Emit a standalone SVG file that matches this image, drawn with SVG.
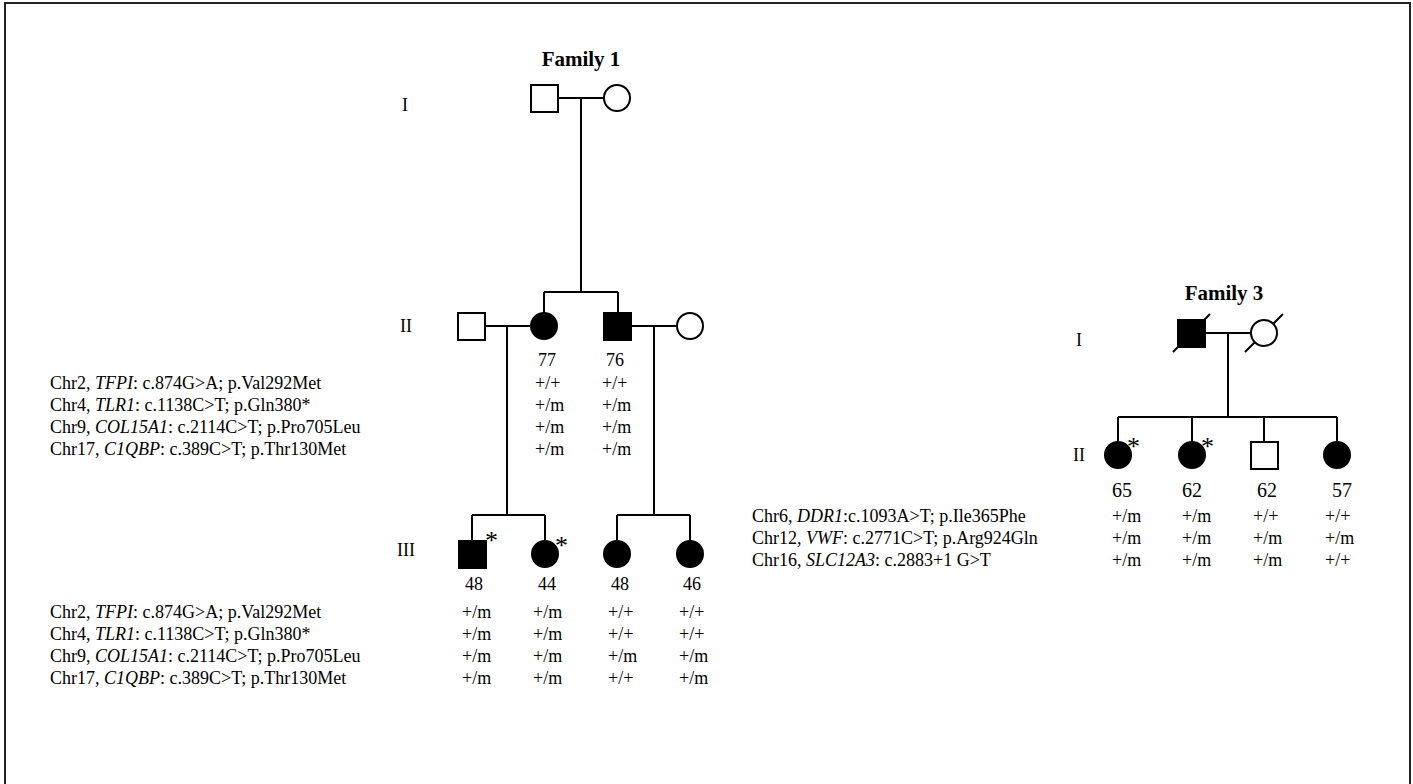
<svg xmlns="http://www.w3.org/2000/svg" width="1413" height="784" viewBox="0 0 1413 784">
<style>
text{font-family:"Liberation Serif","Times New Roman",serif;fill:#000;}
.g{font-size:18px;}
.n{font-size:18px;text-anchor:middle;}
.n3{font-size:20px;text-anchor:middle;}
.h{font-size:21px;font-weight:bold;text-anchor:middle;}
.r{font-size:18px;}
.a{font-size:26px;}
.o{fill:#fff;stroke:#000;stroke-width:2;}
.f{fill:#000;stroke:#000;stroke-width:2;}
.l{stroke:#000;stroke-width:2;fill:none;}
</style>
<rect x="0" y="0" width="1413" height="784" fill="#fff"/>
<rect x="5" y="3" width="1405" height="820" fill="none" stroke="#222" stroke-width="2"/>

<g id="connectors" class="l">
<path d="M558 98H604M581 98V292M544 292H618M544 292V313M618 292V313"/>
<path d="M485 326H530M631 326H677M507 326V515M654 326V515"/>
<path d="M472 515H545M472 515V540M545 515V540M617 515H690M617 515V540M690 515V540"/>
<path d="M1205 333H1251M1228 333V417M1118 417H1337M1118 417V441M1192 417V441M1264 417V442M1337 417V441"/>
<path d="M1173 352L1210 314M1245 352L1283 314"/>
</g>

<g id="labels">
<text class="h" x="581" y="66">Family 1</text>
<text class="r" x="402" y="111">I</text>
<text class="r" x="400" y="332">II</text>
<text class="r" x="397" y="556">III</text>
<text class="h" x="1224" y="300">Family 3</text>
<text class="r" x="1076" y="346">I</text>
<text class="r" x="1073" y="461">II</text>
</g>

<g id="f1-I-1"><rect class="o" x="531" y="85" width="27" height="27"/></g>
<g id="f1-I-2"><circle class="o" cx="617" cy="98" r="13"/></g>
<g id="f1-II-1"><rect class="o" x="458" y="313" width="27" height="27"/></g>
<g id="f1-II-2"><circle class="f" cx="544" cy="326" r="13"/><text class="n" x="547" y="366">77</text></g>
<g id="f1-II-3"><rect class="f" x="604" y="313" width="27" height="27"/><text class="n" x="615" y="366">76</text></g>
<g id="f1-II-4"><circle class="o" cx="690" cy="326" r="13"/></g>

<g id="f1-III-1"><rect class="f" x="459" y="541" width="27" height="27"/><text class="a" x="485" y="549">*</text><text class="n" x="474" y="590">48</text></g>
<g id="f1-III-2"><circle class="f" cx="545" cy="554" r="13"/><text class="a" x="555" y="554">*</text><text class="n" x="547" y="590">44</text></g>
<g id="f1-III-3"><circle class="f" cx="617" cy="554" r="13"/><text class="n" x="620" y="590">48</text></g>
<g id="f1-III-4"><circle class="f" cx="690" cy="554" r="13"/><text class="n" x="692" y="590">46</text></g>

<g id="f1-II-geno" class="g">
<text x="50" y="389">Chr2, <tspan font-style="italic">TFPI</tspan>: c.874G&gt;A; p.Val292Met</text>
<text x="50" y="411">Chr4, <tspan font-style="italic">TLR1</tspan>: c.1138C&gt;T; p.Gln380*</text>
<text x="50" y="433">Chr9, <tspan font-style="italic">COL15A1</tspan>: c.2114C&gt;T; p.Pro705Leu</text>
<text x="50" y="455">Chr17, <tspan font-style="italic">C1QBP</tspan>: c.389C&gt;T; p.Thr130Met</text>
<text x="535" y="389">+/+</text><text x="602" y="389">+/+</text>
<text x="535" y="411">+/m</text><text x="602" y="411">+/m</text>
<text x="535" y="433">+/m</text><text x="602" y="433">+/m</text>
<text x="535" y="455">+/m</text><text x="602" y="455">+/m</text>
</g>

<g id="f1-III-geno" class="g">
<text x="50" y="618">Chr2, <tspan font-style="italic">TFPI</tspan>: c.874G&gt;A; p.Val292Met</text>
<text x="50" y="640">Chr4, <tspan font-style="italic">TLR1</tspan>: c.1138C&gt;T; p.Gln380*</text>
<text x="50" y="662">Chr9, <tspan font-style="italic">COL15A1</tspan>: c.2114C&gt;T; p.Pro705Leu</text>
<text x="50" y="684">Chr17, <tspan font-style="italic">C1QBP</tspan>: c.389C&gt;T; p.Thr130Met</text>
<text x="462" y="618">+/m</text><text x="533" y="618">+/m</text><text x="608" y="618">+/+</text><text x="679" y="618">+/+</text>
<text x="462" y="640">+/m</text><text x="533" y="640">+/m</text><text x="608" y="640">+/+</text><text x="679" y="640">+/+</text>
<text x="462" y="662">+/m</text><text x="533" y="662">+/m</text><text x="608" y="662">+/m</text><text x="679" y="662">+/m</text>
<text x="462" y="684">+/m</text><text x="533" y="684">+/m</text><text x="608" y="684">+/+</text><text x="679" y="684">+/m</text>
</g>

<g id="f3-I-1"><rect class="f" x="1178" y="320" width="27" height="27"/></g>
<g id="f3-I-2"><circle class="o" cx="1264" cy="333" r="13"/></g>
<g id="f3-II-1"><circle class="f" cx="1118" cy="455" r="13"/><text class="a" x="1127" y="455">*</text><text class="n3" x="1122" y="497">65</text></g>
<g id="f3-II-2"><circle class="f" cx="1192" cy="455" r="13"/><text class="a" x="1201" y="455">*</text><text class="n3" x="1192" y="497">62</text></g>
<g id="f3-II-3"><rect class="o" x="1251" y="442" width="27" height="27"/><text class="n3" x="1267" y="497">62</text></g>
<g id="f3-II-4"><circle class="f" cx="1337" cy="455" r="13"/><text class="n3" x="1342" y="497">57</text></g>

<g id="f3-geno" class="g">
<text x="752" y="522">Chr6, <tspan font-style="italic">DDR1</tspan>:c.1093A&gt;T; p.Ile365Phe</text>
<text x="752" y="544">Chr12, <tspan font-style="italic">VWF</tspan>: c.2771C&gt;T; p.Arg924Gln</text>
<text x="752" y="566">Chr16, <tspan font-style="italic">SLC12A3</tspan>: c.2883+1 G&gt;T</text>
<text x="1112" y="522">+/m</text><text x="1182" y="522">+/m</text><text x="1253" y="522">+/+</text><text x="1325" y="522">+/+</text>
<text x="1112" y="544">+/m</text><text x="1182" y="544">+/m</text><text x="1253" y="544">+/m</text><text x="1325" y="544">+/m</text>
<text x="1112" y="566">+/m</text><text x="1182" y="566">+/m</text><text x="1253" y="566">+/m</text><text x="1325" y="566">+/+</text>
</g>
</svg>
